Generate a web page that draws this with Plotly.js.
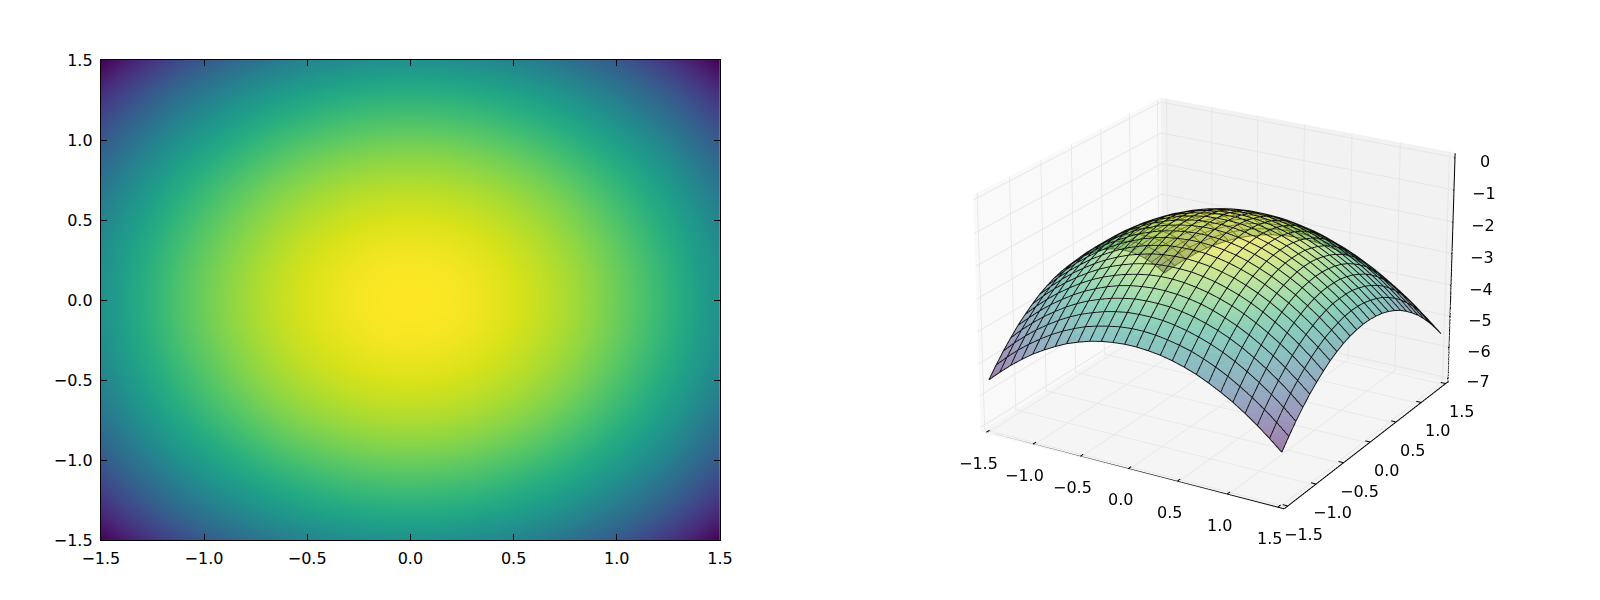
<!DOCTYPE html>
<html><head><meta charset="utf-8">
<script src="https://cdn.plot.ly/plotly-3.0.1.min.js"></script>
<style>html,body{margin:0;padding:0;background:#fff;width:1600px;height:600px;overflow:hidden}#c{position:absolute;left:0;top:-958px;width:1600px;height:2500px}</style></head>
<body><div id="c"></div>
<script>
var xValues=[-1.5,-1.38,-1.26,-1.14,-1.02,-0.9,-0.78,-0.66,-0.54,-0.42,-0.3,-0.18,-0.06,0.06,0.18,0.3,0.42,0.54,0.66,0.78,0.9,1.02,1.14,1.26,1.38,1.5];
var yValues=xValues.slice();
var row12=[-6.75,-6.23,-5.76,-5.32,-4.94,-4.59,-4.29,-4.03,-3.81,-3.64,-3.51,-3.42,-3.38,-3.38,-3.42,-3.51,-3.64,-3.81,-4.03,-4.29,-4.59,-4.94,-5.32,-5.76,-6.23,-6.75];
var row11=[-6.23,-5.71,-5.24,-4.81,-4.42,-4.07,-3.77,-3.51,-3.29,-3.12,-2.99,-2.91,-2.86,-2.86,-2.91,-2.99,-3.12,-3.29,-3.51,-3.77,-4.07,-4.42,-4.81,-5.24,-5.71,-6.23];
var row10=[-5.76,-5.24,-4.76,-4.33,-3.94,-3.6,-3.29,-3.03,-2.82,-2.65,-2.52,-2.43,-2.39,-2.39,-2.43,-2.52,-2.65,-2.82,-3.03,-3.29,-3.6,-3.94,-4.33,-4.76,-5.24,-5.76];
var row9=[-5.32,-4.81,-4.33,-3.9,-3.51,-3.16,-2.86,-2.6,-2.39,-2.21,-2.08,-2,-1.95,-1.95,-2,-2.08,-2.21,-2.39,-2.6,-2.86,-3.16,-3.51,-3.9,-4.33,-4.81,-5.32];
var row8=[-4.94,-4.42,-3.94,-3.51,-3.12,-2.78,-2.47,-2.21,-2,-1.83,-1.7,-1.61,-1.57,-1.57,-1.61,-1.7,-1.83,-2,-2.21,-2.47,-2.78,-3.12,-3.51,-3.94,-4.42,-4.94];
var row7=[-4.59,-4.07,-3.6,-3.16,-2.78,-2.43,-2.13,-1.87,-1.65,-1.48,-1.35,-1.26,-1.22,-1.22,-1.26,-1.35,-1.48,-1.65,-1.87,-2.13,-2.43,-2.78,-3.16,-3.6,-4.07,-4.59];
var row6=[-4.29,-3.77,-3.29,-2.86,-2.47,-2.13,-1.83,-1.57,-1.35,-1.18,-1.05,-0.96,-0.92,-0.92,-0.96,-1.05,-1.18,-1.35,-1.57,-1.83,-2.13,-2.47,-2.86,-3.29,-3.77,-4.29];
var row5=[-4.03,-3.51,-3.03,-2.6,-2.21,-1.87,-1.57,-1.31,-1.09,-0.92,-0.79,-0.7,-0.66,-0.66,-0.7,-0.79,-0.92,-1.09,-1.31,-1.57,-1.87,-2.21,-2.6,-3.03,-3.51,-4.03];
var row4=[-3.81,-3.29,-2.82,-2.39,-2,-1.65,-1.35,-1.09,-0.87,-0.7,-0.57,-0.49,-0.44,-0.44,-0.49,-0.57,-0.7,-0.87,-1.09,-1.35,-1.65,-2,-2.39,-2.82,-3.29,-3.81];
var row3=[-3.64,-3.12,-2.65,-2.21,-1.83,-1.48,-1.18,-0.92,-0.7,-0.53,-0.4,-0.31,-0.27,-0.27,-0.31,-0.4,-0.53,-0.7,-0.92,-1.18,-1.48,-1.83,-2.21,-2.65,-3.12,-3.64];
var row2=[-3.51,-2.99,-2.52,-2.08,-1.7,-1.35,-1.05,-0.79,-0.57,-0.4,-0.27,-0.18,-0.14,-0.14,-0.18,-0.27,-0.4,-0.57,-0.79,-1.05,-1.35,-1.7,-2.08,-2.52,-2.99,-3.51];
var row1=[-3.42,-2.91,-2.43,-2,-1.61,-1.26,-0.96,-0.7,-0.49,-0.31,-0.18,-0.1,-0.05,-0.05,-0.1,-0.18,-0.31,-0.49,-0.7,-0.96,-1.26,-1.61,-2,-2.43,-2.91,-3.42];
var row0=[-3.38,-2.86,-2.39,-1.95,-1.57,-1.22,-0.92,-0.66,-0.44,-0.27,-0.14,-0.05,-0.01,-0.01,-0.05,-0.14,-0.27,-0.44,-0.66,-0.92,-1.22,-1.57,-1.95,-2.39,-2.86,-3.38];
var zValues=[row12,row11,row10,row9,row8,row7,row6,row5,row4,row3,row2,row1,row0,row0,row1,row2,row3,row4,row5,row6,row7,row8,row9,row10,row11,row12];
var surf12=[-5.53,-5.21,-4.91,-4.64,-4.39,-4.18,-3.99,-3.82,-3.69,-3.58,-3.5,-3.45,-3.42,-3.42,-3.45,-3.5,-3.58,-3.69,-3.82,-3.99,-4.18,-4.39,-4.64,-4.91,-5.21,-5.53];
var surf11=[-5.21,-4.88,-4.58,-4.31,-4.07,-3.85,-3.66,-3.5,-3.36,-3.26,-3.18,-3.12,-3.09,-3.09,-3.12,-3.18,-3.26,-3.36,-3.5,-3.66,-3.85,-4.07,-4.31,-4.58,-4.88,-5.21];
var surf10=[-4.91,-4.58,-4.28,-4.01,-3.77,-3.55,-3.36,-3.2,-3.07,-2.96,-2.88,-2.82,-2.8,-2.8,-2.82,-2.88,-2.96,-3.07,-3.2,-3.36,-3.55,-3.77,-4.01,-4.28,-4.58,-4.91];
var surf9=[-4.64,-4.31,-4.01,-3.74,-3.5,-3.28,-3.09,-2.93,-2.8,-2.69,-2.61,-2.55,-2.53,-2.53,-2.55,-2.61,-2.69,-2.8,-2.93,-3.09,-3.28,-3.5,-3.74,-4.01,-4.31,-4.64];
var surf8=[-4.39,-4.07,-3.77,-3.5,-3.26,-3.04,-2.85,-2.69,-2.55,-2.44,-2.36,-2.31,-2.28,-2.28,-2.31,-2.36,-2.44,-2.55,-2.69,-2.85,-3.04,-3.26,-3.5,-3.77,-4.07,-4.39];
var surf7=[-4.18,-3.85,-3.55,-3.28,-3.04,-2.82,-2.63,-2.47,-2.34,-2.23,-2.15,-2.09,-2.06,-2.06,-2.09,-2.15,-2.23,-2.34,-2.47,-2.63,-2.82,-3.04,-3.28,-3.55,-3.85,-4.18];
var surf6=[-3.99,-3.66,-3.36,-3.09,-2.85,-2.63,-2.44,-2.28,-2.15,-2.04,-1.96,-1.9,-1.88,-1.88,-1.9,-1.96,-2.04,-2.15,-2.28,-2.44,-2.63,-2.85,-3.09,-3.36,-3.66,-3.99];
var surf5=[-3.82,-3.5,-3.2,-2.93,-2.69,-2.47,-2.28,-2.12,-1.98,-1.88,-1.79,-1.74,-1.71,-1.71,-1.74,-1.79,-1.88,-1.98,-2.12,-2.28,-2.47,-2.69,-2.93,-3.2,-3.5,-3.82];
var surf4=[-3.69,-3.36,-3.07,-2.8,-2.55,-2.34,-2.15,-1.98,-1.85,-1.74,-1.66,-1.6,-1.58,-1.58,-1.6,-1.66,-1.74,-1.85,-1.98,-2.15,-2.34,-2.55,-2.8,-3.07,-3.36,-3.69];
var surf3=[-3.58,-3.26,-2.96,-2.69,-2.44,-2.23,-2.04,-1.88,-1.74,-1.63,-1.55,-1.5,-1.47,-1.47,-1.5,-1.55,-1.63,-1.74,-1.88,-2.04,-2.23,-2.44,-2.69,-2.96,-3.26,-3.58];
var surf2=[-3.5,-3.18,-2.88,-2.61,-2.36,-2.15,-1.96,-1.79,-1.66,-1.55,-1.47,-1.42,-1.39,-1.39,-1.42,-1.47,-1.55,-1.66,-1.79,-1.96,-2.15,-2.36,-2.61,-2.88,-3.18,-3.5];
var surf1=[-3.45,-3.12,-2.82,-2.55,-2.31,-2.09,-1.9,-1.74,-1.6,-1.5,-1.42,-1.36,-1.33,-1.33,-1.36,-1.42,-1.5,-1.6,-1.74,-1.9,-2.09,-2.31,-2.55,-2.82,-3.12,-3.45];
var surf0=[-3.42,-3.09,-2.8,-2.53,-2.28,-2.06,-1.88,-1.71,-1.58,-1.47,-1.39,-1.33,-1.31,-1.31,-1.33,-1.39,-1.47,-1.58,-1.71,-1.88,-2.06,-2.28,-2.53,-2.8,-3.09,-3.42];
var zSurface=[surf12,surf11,surf10,surf9,surf8,surf7,surf6,surf5,surf4,surf3,surf2,surf1,surf0,surf0,surf1,surf2,surf3,surf4,surf5,surf6,surf7,surf8,surf9,surf10,surf11,surf12];
var tickVals=[-1.5,-1,-0.5,0,0.5,1,1.5];
var tickText=['\u22121.5','\u22121.0','\u22120.5','0.0','0.5','1.0','1.5'];
var zTickVals=[-7,-6,-5,-4,-3,-2,-1,0];
var zTickText=['\u22127','\u22126','\u22125','\u22124','\u22123','\u22122','\u22121','0'];
var xyRange=[-1.5625,1.5625], zRange=[-7.146,0.146];

var font={family:'DejaVu Sans',size:16,color:'#000'};
var a2={range:[-1.5,1.5],tickvals:tickVals,ticktext:tickText,ticks:'inside',ticklen:6,tickwidth:1,tickcolor:'#000',showline:true,linecolor:'#000',linewidth:1,mirror:'ticks',showgrid:false,zeroline:false,tickfont:font,ticklabelstandoff:4};
var a3={range:xyRange,autorange:false,tickvals:tickVals,showticklabels:false,ticks:'',showbackground:true,showgrid:true,gridcolor:'#e6e6e6',gridwidth:2,showline:false,zeroline:false,showspikes:false,title:{text:''}};

var ax={x:[],y:[],z:[]};
function seg(p,q){ax.x.push(p[0],q[0],null);ax.y.push(p[1],q[1],null);ax.z.push(p[2],q[2],null);}
var xMin=xyRange[0],xMax=xyRange[1],zMin=zRange[0],zMax=zRange[1];
var lift=zMin+0.04, front=xMax-0.012;
seg([xMin,xMin,lift],[xMax,xMin,lift]);
seg([xMax,xMin,lift],[xMax,xMax,lift]);
seg([xMax,front,zMin],[xMax,front,zMax]);
var ann=[];
function lab(x,y,z,t,dx,dy){ann.push({x:x,y:y,z:z,text:t,showarrow:false,xanchor:'center',yanchor:'middle',xshift:dx,yshift:dy,font:font});}
tickVals.forEach(function(v,i){
  seg([v,xMin+0.05,lift],[v,xMin-0.04,lift]);
  lab(v,xMin,zMin,tickText[i],-8,-30);
  seg([xMax-0.05,v,lift],[xMax+0.05,v,lift]);
  lab(xMax,v,zMin,tickText[i],16,-27);
});
zTickVals.forEach(function(v,i){
  seg([xMax-0.01,front,v],[xMax+0.06,xMax-0.03,v]);
  lab(xMax,xMax,v,zTickText[i],29,-4);
});
var mesh={x:[],y:[],z:[]};
xValues.forEach(function(xv,i){yValues.forEach(function(yv,j){mesh.x.push(xv);mesh.y.push(yv);mesh.z.push(zSurface[j][i]);});mesh.x.push(null);mesh.y.push(null);mesh.z.push(null);});
yValues.forEach(function(yv,j){xValues.forEach(function(xv,i){mesh.x.push(xv);mesh.y.push(yv);mesh.z.push(zSurface[j][i]);});mesh.x.push(null);mesh.y.push(null);mesh.z.push(null);});

var layout={width:1600,height:2500,margin:{l:0,r:0,t:0,b:0},paper_bgcolor:'#fff',plot_bgcolor:'#fff',showlegend:false,hovermode:false,
 xaxis:Object.assign({},a2,{domain:[0.063,0.45]}),
 yaxis:Object.assign({},a2,{domain:[0.4008,0.5928],anchor:'x'}),
 scene:{domain:{x:[0.5625,0.96125],y:[0,1]},aspectmode:'manual',aspectratio:{x:1,y:1,z:0.725},hovermode:false,
  camera:{eye:{x:4.093,y:-6.949,z:3.26},center:{x:0,y:0,z:0},up:{x:0,y:0,z:1}},
  annotations:ann,
  xaxis:Object.assign({},a3,{backgroundcolor:'#f9f9f9'}),
  yaxis:Object.assign({},a3,{backgroundcolor:'#f2f2f2'}),
  zaxis:Object.assign({},a3,{range:zRange,tickvals:zTickVals,backgroundcolor:'#f5f5f5'})}};
var traces=[
 {type:'heatmap',x:xValues,y:yValues,z:zValues,colorscale:'Viridis',zmin:-6.75,zmax:-0.01,zsmooth:'best',showscale:false,hoverinfo:'skip'},
 {type:'scatter3d',mode:'lines',x:mesh.x,y:mesh.y,z:mesh.z,line:{color:'#111',width:2},hoverinfo:'skip',connectgaps:false},
 {type:'surface',x:xValues,y:yValues,z:zSurface,colorscale:'Viridis',cmin:-5.53,cmax:-1.31,opacity:0.5,showscale:false,hoverinfo:'skip',
  lighting:{ambient:1,diffuse:0,specular:0,roughness:1,fresnel:0},contours:{x:{show:false},y:{show:false},z:{show:false}}},
 {type:'scatter3d',mode:'lines',x:ax.x,y:ax.y,z:ax.z,line:{color:'#000',width:2},hoverinfo:'skip',connectgaps:false}
];
Plotly.newPlot('c',traces,layout,{displayModeBar:false});
</script></body></html>
